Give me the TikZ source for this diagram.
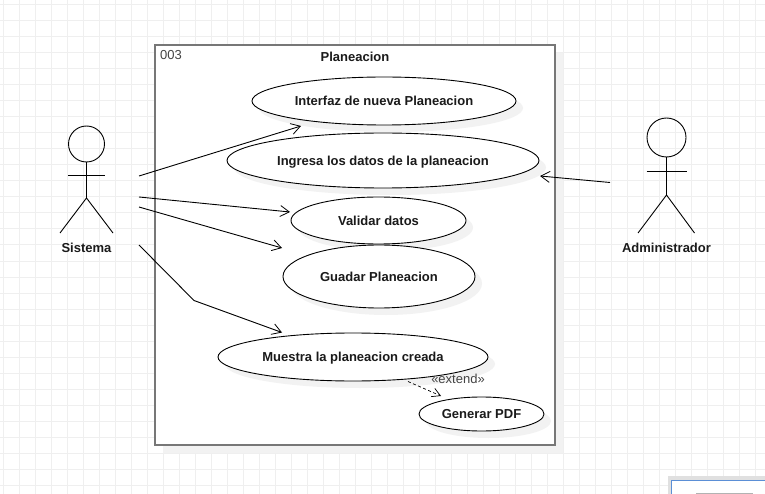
\documentclass[tikz,border=0pt]{standalone}
\usepackage{fontspec}
\setmainfont{Liberation Sans}
\usetikzlibrary{shapes.geometric,arrows.meta,shadows}
\definecolor{gridc}{HTML}{EFEFEF}
\definecolor{shadowc}{HTML}{F2F2F2}
\definecolor{framec}{HTML}{777777}
\definecolor{textc}{HTML}{1A1A1A}
\definecolor{stereoc}{HTML}{444444}
\definecolor{popupc}{HTML}{5B8FD6}
\tikzset{
  gridline/.style={draw=gridc,line width=1pt},
  usecase/.style={ellipse,draw=black,line width=0.9pt,fill=white,inner sep=0pt,
    font=\fontsize{13}{15}\selectfont\bfseries,text=textc,text height=9.5pt,text depth=0pt,
    copy shadow={shadow xshift=7pt,shadow yshift=-7pt,draw=none,fill=shadowc}},
  sysframe/.style={rectangle,draw=framec,line width=1.6pt,fill=white,inner sep=0pt,
    minimum width=400pt,minimum height=400pt,
    copy shadow={shadow xshift=8pt,shadow yshift=-8pt,draw=none,fill=shadowc}},
  actorpart/.style={draw=black,line width=0.9pt},
  actorhead/.style={circle,draw=black,line width=0.9pt,fill=none,inner sep=0pt},
  actorlabel/.style={font=\fontsize{13}{15}\selectfont\bfseries,text=textc,inner sep=0pt},
  assoc/.style={draw=black,line width=0.9pt,-{Straight Barb[length=9pt,width=11pt,line width=0.8pt]}},
  extendline/.style={draw=black,line width=0.7pt,dash pattern=on 3pt off 2.5pt,
    -{Straight Barb[length=8pt,width=9pt,line width=0.7pt]}},
  plain/.style={inner sep=0pt},
}
\begin{document}
\begin{tikzpicture}[x=1pt,y=-1pt]
\useasboundingbox (0,0) rectangle (765,494);
\clip (0,0) rectangle (765,494);
% background grid
\foreach \gx in {0,...,47} \draw[gridline] ({3.5+16*\gx},0) -- ({3.5+16*\gx},494);
\foreach \gy in {0,...,30} \draw[gridline] (0,{5+16*\gy}) -- (765,{5+16*\gy});
% corner popup
\fill[black!12] (668,476) rectangle (765,494);
\draw[draw=popupc,line width=1pt,fill=white] (671,480) rectangle (770,500);
\draw[draw=black!30,line width=1pt] (696,493.5) -- (753,493.5);
% system frame
\node[sysframe] (frame) at (355,245) {};
\node[plain,font=\fontsize{13}{15}\selectfont\bfseries,text=textc] (title) at (355,57) {Planeacion};
\node[plain,font=\fontsize{13}{15}\selectfont,text=stereoc,anchor=west] (num) at (160,55) {003};
% use cases
\node[usecase,minimum width=264pt,minimum height=48pt] (u1) at (384,101) {Interfaz de nueva Planeacion};
\node[usecase,minimum width=312pt,minimum height=55pt] (u2) at (383,160.5) {Ingresa los datos de la planeacion};
\node[usecase,minimum width=175pt,minimum height=47pt] (u3) at (378.5,220.5) {Validar datos};
\node[usecase,minimum width=192pt,minimum height=63pt] (u4) at (379,276.5) {Guadar Planeacion};
\node[usecase,minimum width=270pt,minimum height=48pt] (u5) at (353,357) {Muestra la planeacion creada};
\node[usecase,minimum width=125pt,minimum height=34pt] (u6) at (481.5,414) {Generar PDF};
\node[plain,font=\fontsize{13}{15}\selectfont,text=stereoc] (ext) at (458,379) {«extend»};
% actor Sistema
\node[actorhead,minimum size=36pt] (h1) at (86.5,144) {};
\coordinate (hip1) at (86.5,198);
\coordinate (armL1) at (68,175);
\coordinate (armR1) at (105,175);
\coordinate (legL1) at (60,233);
\coordinate (legR1) at (113,233);
\draw[actorpart] (h1.south) -- (hip1);
\draw[actorpart] (armL1) -- (armR1);
\draw[actorpart] (legL1) -- (hip1) -- (legR1);
\node[actorlabel] (sis) at (86.5,248) {Sistema};
% actor Administrador
\node[actorhead,minimum size=39pt] (h2) at (666.5,137.5) {};
\coordinate (hip2) at (666.5,195);
\coordinate (armL2) at (646.5,171);
\coordinate (armR2) at (686.5,171);
\coordinate (legL2) at (638,233);
\coordinate (legR2) at (694.5,233);
\draw[actorpart] (h2.south) -- (hip2);
\draw[actorpart] (armL2) -- (armR2);
\draw[actorpart] (legL2) -- (hip2) -- (legR2);
\node[actorlabel] (adm) at (666.5,248) {Administrador};
% connector ends
\coordinate (s1) at (139,176);
\coordinate (e1) at (301,126);
\coordinate (s2) at (139,197);
\coordinate (e2) at (290,212);
\coordinate (s3) at (139,207);
\coordinate (e3) at (282,248);
\coordinate (s4) at (139,245);
\coordinate (b4) at (194,300.5);
\coordinate (e4) at (282,332.5);
\coordinate (s5) at (610,182.5);
\coordinate (e5) at (540,176);
\coordinate (s6) at (408,381.5);
\coordinate (e6) at (441,396);
% connectors
\draw[assoc] (s1) -- (e1);
\draw[assoc] (s2) -- (e2);
\draw[assoc] (s3) -- (e3);
\draw[assoc] (s4) -- (b4) -- (e4);
\draw[assoc] (s5) -- (e5);
\draw[extendline] (s6) -- (e6);
\end{tikzpicture}
\end{document}
